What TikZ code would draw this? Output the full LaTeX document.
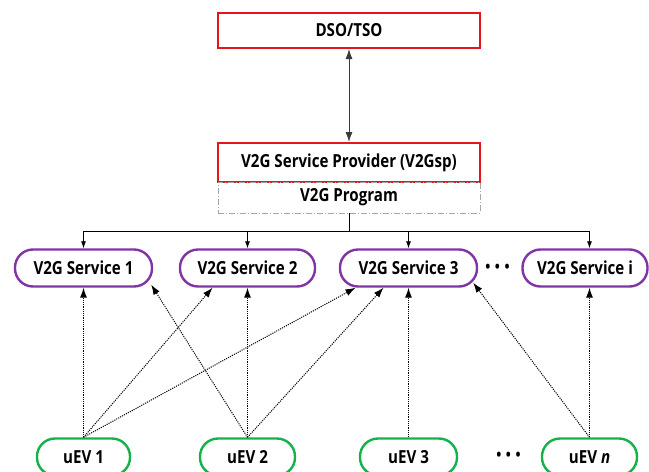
\documentclass[tikz,border=0pt]{standalone}
\usepackage{fontspec}
\setmainfont[FakeStretch=0.84]{Open Sans}
\usetikzlibrary{arrows.meta,calc}
\definecolor{boxred}{HTML}{E3161D}
\definecolor{svcpurple}{HTML}{8134A6}
\definecolor{evgreen}{HTML}{16B14B}
\definecolor{linkgray}{HTML}{3A3A3A}
\begin{document}
\begin{tikzpicture}[x=1pt,y=-1pt,
  lbl/.style={font=\fontsize{18}{20}\selectfont\bfseries, text=black},
  redbox/.style={lbl, draw=boxred, line width=2pt, minimum width=262pt, inner sep=0pt},
  progbox/.style={lbl, draw=gray!70, line width=0.9pt, dash pattern=on 6pt off 2pt on 1pt off 2pt, minimum width=262pt, minimum height=31pt, inner sep=0pt},
  svc/.style={lbl, draw=svcpurple, line width=2.4pt, rounded corners=18pt, minimum height=37pt, inner sep=0pt},
  uev/.style={lbl, draw=evgreen, line width=2.4pt, rounded corners=18pt, minimum height=37pt, inner sep=0pt},
  dotlink/.style={line width=1pt, dash pattern=on 1.1pt off 1.1pt, -{Latex[length=10pt,width=7pt]}},
  buslink/.style={line width=0.8pt, -{Latex[length=7pt,width=5pt]}},
  ellip/.style={font=\fontsize{16}{18}\selectfont\bfseries, inner sep=0pt}
]
\useasboundingbox (0,0) rectangle (649,472);

\node[redbox, minimum height=35pt] (dso) at (349,30.5) {DSO/TSO};
\node[redbox, minimum height=39pt] (gsp) at (349,162.5) {V2G Service Provider (V2Gsp)};
\node[progbox] (prog) at (349,197.5) {V2G Program};

\node[svc, minimum width=137pt] (s1) at (83.5,268) {V2G Service 1};
\node[svc, minimum width=135pt] (s2) at (247.5,268) {V2G Service 2};
\node[svc, minimum width=137pt] (s3) at (408.5,268) {V2G Service 3};
\node[svc, minimum width=125pt] (si) at (585,268) {V2G Service i};
\node[ellip] (sdots) at (497.5,268) {•\hspace{4.5pt}•\hspace{4.5pt}•};

\node[uev, minimum width=93pt] (u1) at (83.5,457) {uEV 1};
\node[uev, minimum width=95pt] (u2) at (247.5,457) {uEV 2};
\node[uev, minimum width=97pt] (u3) at (408.5,457) {uEV 3};
\node[uev, minimum width=95pt] (un) at (589.5,457) {uEV \textit{n}};
\node[ellip] (udots) at (508.5,456) {•\hspace{4.5pt}•\hspace{4.5pt}•};

% DSO <-> V2Gsp
\draw[linkgray, line width=0.9pt, {Latex[length=10pt,width=7pt]}-{Latex[length=10pt,width=7pt]}] (dso.south) -- (gsp.north);

% bus
\coordinate (bus) at ($(prog.south)+(0,18)$);
\draw[line width=0.8pt] (prog.south) -- (bus);
\draw[line width=0.8pt] (bus -| s1.north) -- (bus -| un.north);
\draw[buslink] (bus -| s1.north) -- (s1.north);
\draw[buslink] (bus -| s2.north) -- (s2.north);
\draw[buslink] (bus -| s3.north) -- (s3.north);
\draw[buslink] (bus -| un.north) -- (un.north |- si.north);

% uEV -> services
\draw[dotlink] (u1.north) -- (s1.south);
\draw[dotlink] (u1.north) -- ($(s2.south)+(-35,0)$);
\draw[dotlink] (u1.north) -- ($(s3.south)+(-53,0)$);
\draw[dotlink] (u2.north) -- ($(s1.south east)+(-2,-3)$);
\draw[dotlink] (u2.north) -- (s2.south);
\draw[dotlink] (u2.north) -- ($(s3.south)+(-25,0)$);
\draw[dotlink] (u3.north) -- (s3.south);
\draw[dotlink] (un.north) -- ($(s3.south east)+(-5,-5)$);
\draw[dotlink] (un.north) -- (un.north |- si.south);
\end{tikzpicture}
\end{document}
